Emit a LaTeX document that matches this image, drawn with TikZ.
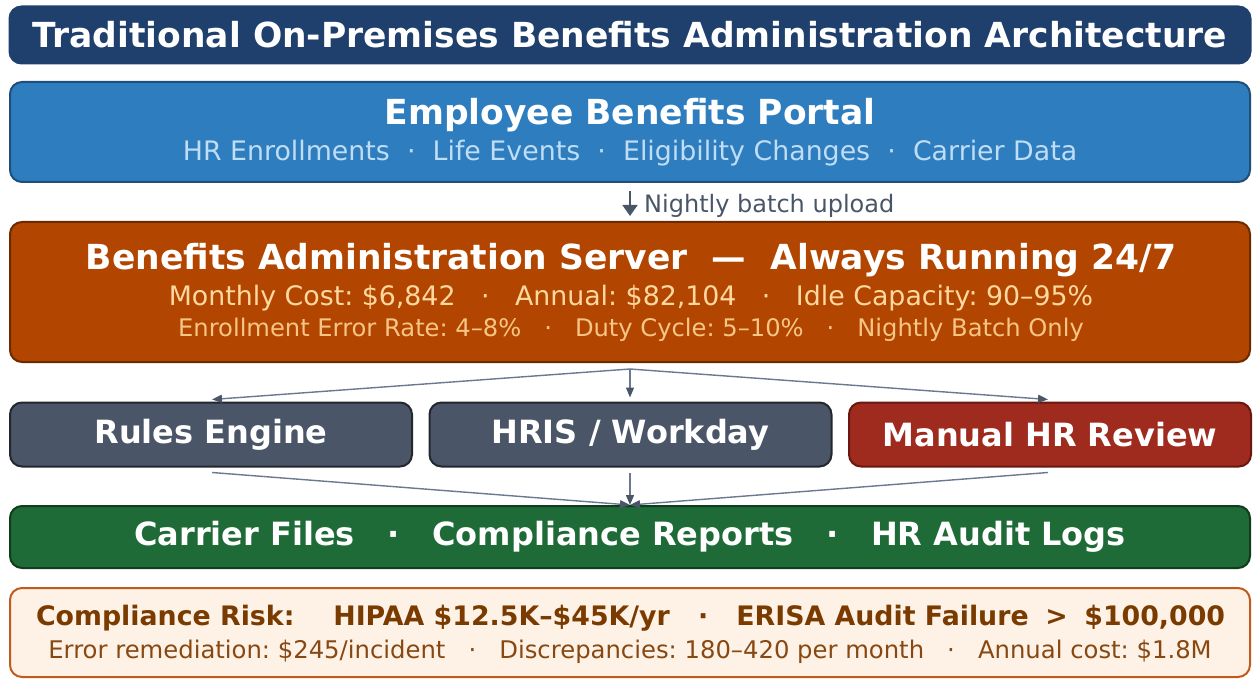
\documentclass[tikz,border=0pt]{standalone}
\usepackage{fontspec}
\setmainfont{DejaVu Sans}
\usetikzlibrary{arrows.meta}
\frenchspacing

\definecolor{navy}{HTML}{1F3F6D}
\definecolor{portalfill}{HTML}{2E7DBE}
\definecolor{portaledge}{HTML}{1F4E79}
\definecolor{portaltext}{HTML}{BFDDF5}
\definecolor{serverfill}{HTML}{B24600}
\definecolor{serveredge}{HTML}{6B2A00}
\definecolor{servertextA}{HTML}{FFD8A0}
\definecolor{servertextB}{HTML}{F7C585}
\definecolor{slate}{HTML}{4A5568}
\definecolor{slateedge}{HTML}{23272E}
\definecolor{redfill}{HTML}{9F2A1E}
\definecolor{rededge}{HTML}{681810}
\definecolor{greenfill}{HTML}{1E6B37}
\definecolor{greenedge}{HTML}{0F3D1E}
\definecolor{riskfill}{HTML}{FEF1E6}
\definecolor{riskedge}{HTML}{C25A1C}
\definecolor{riskbold}{HTML}{7A3B00}
\definecolor{risktext}{HTML}{874812}
\definecolor{linkline}{HTML}{6B7890}

\newcommand\fsz[1]{\fontsize{#1}{#1}\selectfont}
\newcommand\dotsep[1]{\hspace{#1}·\hspace{#1}}

\begin{document}
\begin{tikzpicture}[x=1pt,y=-1pt,
  panel/.style={draw, line width=2pt, rounded corners=12pt, inner sep=0pt},
  tier/.style={panel, minimum width=402pt, minimum height=64pt, text=white,
    font=\fsz{32}\bfseries},
  link/.style={draw=linkline, line width=1.4pt,
    -{Triangle[length=10pt,width=8pt,color=slate]}},
]
\useasboundingbox (0,0) rectangle (1253,679);

% title banner
\node[panel, fill=navy, draw=navy, minimum width=1241pt, minimum height=57pt,
  text=white, font=\fsz{34.5}\bfseries] (title) at (630,35)
  {Traditional On-Premises Benefits Administration Architecture};

% employee portal
\node[panel, fill=portalfill, draw=portaledge, minimum width=1240pt,
  minimum height=100pt] (portal) at (630,132) {};
\node[text=white, font=\fsz{34.5}\bfseries] (portalT) at (630,115)
  {Employee Benefits Portal};
\node[text=portaltext, font=\fsz{26.8}] (portalS) at (630,153)
  {HR Enrollments\dotsep{0.64em}Life Events\dotsep{0.64em}Eligibility Changes\dotsep{0.64em}Carrier Data};

% batch upload hop
\coordinate (upA) at (630,191);
\coordinate (upB) at (630,216);
\draw[slate, line width=1.8pt, -{Triangle[length=11pt,width=15pt]}] (upA) -- (upB);
\node[anchor=west, text=slate, font=\fsz{24}, inner sep=0pt] (upload) at (644,206)
  {Nightly batch upload};

% administration server
\node[panel, fill=serverfill, draw=serveredge, minimum width=1240pt,
  minimum height=140pt] (server) at (630,292) {};
\node[text=white, font=\fsz{34.5}\bfseries] (serverT) at (631,260)
  {Benefits Administration Server\hspace{0.7em}—\hspace{0.7em}Always Running 24/7};
\node[text=servertextA, font=\fsz{26.8}] (serverA) at (631,298)
  {Monthly Cost: \$6,842\dotsep{0.95em}Annual: \$82,104\dotsep{0.95em}Idle Capacity: 90–95\%};
\node[text=servertextB, font=\fsz{24.2}] (serverB) at (631,330)
  {Enrollment Error Rate: 4–8\%\dotsep{0.95em}Duty Cycle: 5–10\%\dotsep{0.95em}Nightly Batch Only};

% processing tier
\node[tier, fill=slate, draw=slateedge] (rules) at (211,434.5) {Rules Engine};
\node[tier, fill=slate, draw=slateedge] (hris) at (630.5,434.5) {HRIS / Workday};
\node[tier, fill=redfill, draw=rededge] (manual) at (1050,434.5) {Manual HR Review};

% outputs
\node[panel, fill=greenfill, draw=greenedge, minimum width=1240pt,
  minimum height=62pt, text=white, font=\fsz{32}\bfseries] (outputs) at (630,537)
  {Carrier Files\dotsep{1.02em}Compliance Reports\dotsep{1.02em}HR Audit Logs};

% compliance risk
\node[panel, fill=riskfill, draw=riskedge, minimum width=1240pt,
  minimum height=89pt] (risk) at (630,632.5) {};
\node[text=riskbold, font=\fsz{26.8}\bfseries] (riskA) at (630.5,618)
  {Compliance Risk:\hspace{1.45em}HIPAA \$12.5K–\$45K/yr\dotsep{1.05em}ERISA Audit Failure\hspace{0.62em}>\hspace{0.62em}\$100,000};
\node[text=risktext, font=\fsz{24.3}] (riskB) at (630,652)
  {Error remediation: \$245/incident\dotsep{0.95em}Discrepancies: 180–420 per month\dotsep{0.95em}Annual cost: \$1.8M};

% fan-out from the server
\coordinate (fan) at (630,369);
\draw[link] (fan) -- ([xshift=1pt,yshift=2pt]rules.north);
\draw[link] (fan) -- ([xshift=-0.5pt,yshift=4pt]hris.north);
\draw[link] (fan) -- ([xshift=-2pt,yshift=2pt]manual.north);

% fan-in to the outputs
\draw[link] ([xshift=1pt,yshift=-5pt]rules.south) -- (outputs.north);
\draw[link] ([xshift=-0.5pt,yshift=-5pt]hris.south) -- (outputs.north);
\draw[link] ([xshift=-2pt,yshift=-5pt]manual.south) -- (outputs.north);
\end{tikzpicture}
\end{document}
